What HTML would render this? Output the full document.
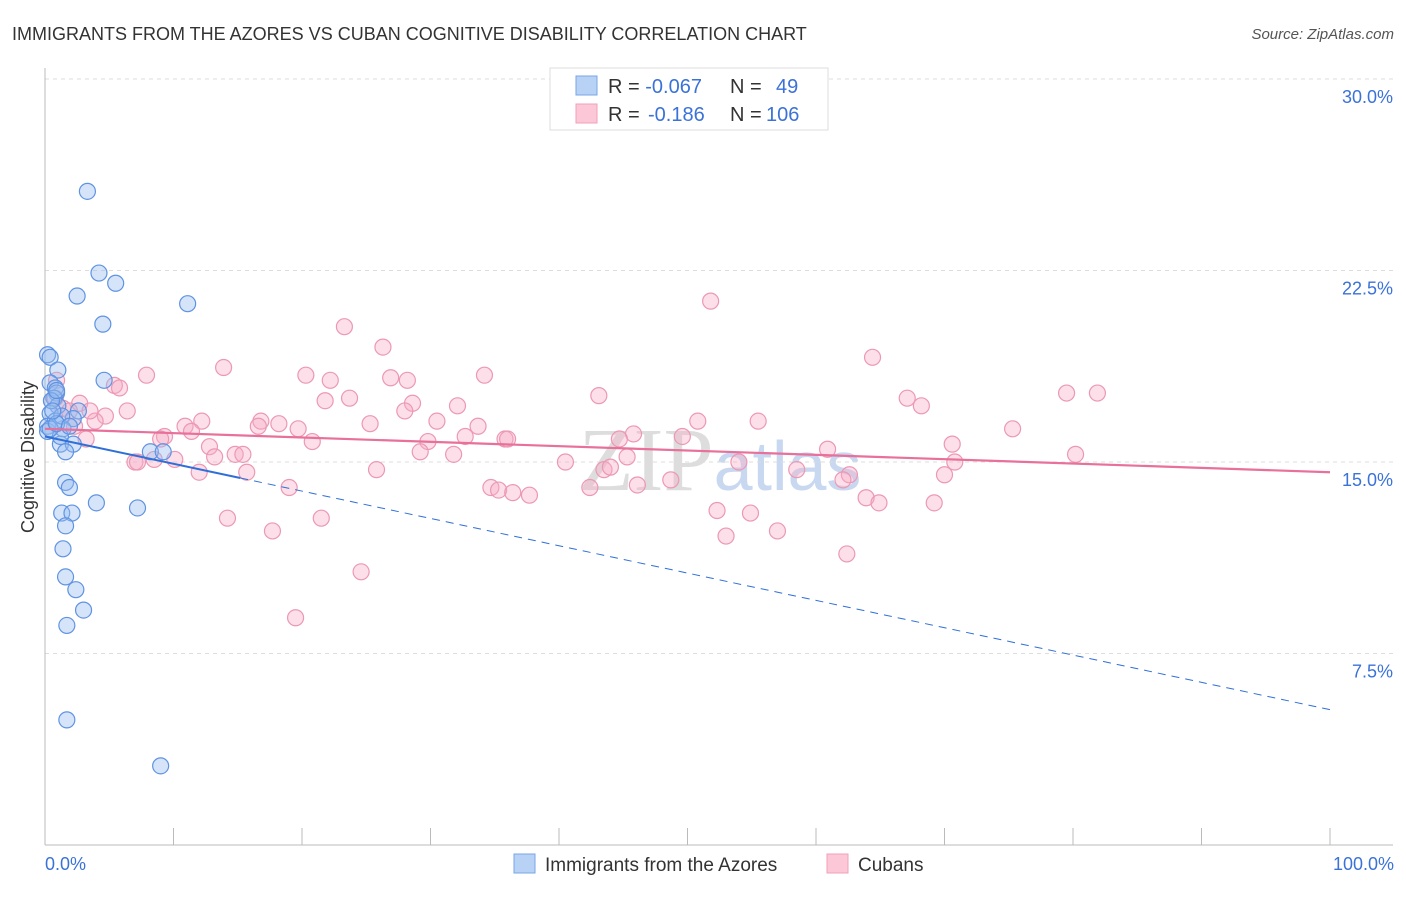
<!DOCTYPE html>
<html><head><meta charset="utf-8"><style>
body{margin:0;background:#fff;font-family:"Liberation Sans",sans-serif}
</style></head><body>
<svg id="chart" width="1406" height="892" xmlns="http://www.w3.org/2000/svg" font-family="Liberation Sans, sans-serif">
<text x="12" y="40" font-size="18" fill="#333">IMMIGRANTS FROM THE AZORES VS CUBAN COGNITIVE DISABILITY CORRELATION CHART</text>
<text x="1394" y="39" font-size="15" fill="#555" text-anchor="end" font-style="italic">Source: ZipAtlas.com</text>
<text x="720" y="490" font-size="90" text-anchor="middle" fill="#ddd" font-family="Liberation Serif, serif">ZIP<tspan fill="#c8d8f0" font-family="Liberation Sans, sans-serif" font-size="70">atlas</tspan></text>
<g id="grid"></g><g id="axes"></g><g id="pts"></g><g id="trends"></g>
<text transform="translate(34,457) rotate(-90)" font-size="18" fill="#333" text-anchor="middle">Cognitive Disability</text>
<text x="45" y="870" font-size="18" fill="#3b72d8">0.0%</text>
<text x="1394" y="870" font-size="18" fill="#3b72d8" text-anchor="end">100.0%</text>
<g>
<rect x="550" y="68" width="278" height="62" fill="#fff" stroke="#ddd"/>
<rect x="576" y="76" width="21" height="19" fill="#b8d2f6" stroke="#7aa5e6"/>
<rect x="576" y="104" width="21" height="19" fill="#fcc8d8" stroke="#f0a0ba"/>
<text x="608" y="93" font-size="20" fill="#333">R = <tspan fill="#3b72d8">-0.067</tspan><tspan x="730">N = </tspan><tspan fill="#3b72d8" x="776">49</tspan></text>
<text x="608" y="121" font-size="20" fill="#333">R = <tspan fill="#3b72d8" x="648">-0.186</tspan><tspan x="730">N = </tspan><tspan fill="#3b72d8" x="766">106</tspan></text>
</g>
<g>
<rect x="514" y="854" width="21" height="19" fill="#b8d2f6" stroke="#7aa5e6"/>
<text x="545" y="871" font-size="19" fill="#333">Immigrants from the Azores</text>
<rect x="827" y="854" width="21" height="19" fill="#fcc8d8" stroke="#f0a0ba"/>
<text x="858" y="871" font-size="19" fill="#333">Cubans</text>
</g>
</svg>
<script>
const yTicks=[7.5,15,22.5,30];
const yTickLabels=["7.5%","15.0%","22.5%","30.0%"];
const azoresX=[3.3,4.2,5.5,2.5,11.1,4.5,0.2,0.4,1.0,4.6,0.4,0.8,0.9,0.7,1.0,2.6,0.4,2.2,0.2,1.4,0.2,1.2,2.2,1.6,8.2,9.2,1.6,1.9,4.0,7.2,1.3,2.1,1.6,1.4,1.6,2.4,3.0,1.7,1.7,9.0,0.8,0.5,1.2,0.4,0.9,1.3,0.9,1.9,0.6];
const azoresY=[25.6,22.4,22.0,21.5,21.2,20.4,19.2,19.1,18.6,18.2,18.1,17.9,17.7,17.5,17.2,17.0,16.9,16.7,16.4,16.3,16.2,15.7,15.7,15.4,15.4,15.4,14.2,14.0,13.4,13.2,13.0,13.0,12.5,11.6,10.5,10.0,9.2,8.6,4.9,3.1,16.6,17.4,16.0,16.3,17.8,16.8,16.5,16.4,17.0];
const cubansX=[51.8,23.3,26.3,64.4,13.9,7.9,20.3,34.2,5.4,5.8,22.2,26.9,28.2,43.1,79.5,81.9,21.8,23.7,67.1,2.7,6.4,4.7,28.6,32.1,68.2,28.0,16.8,16.6,12.2,18.2,19.7,25.3,30.5,33.7,35.8,45.8,50.8,55.5,75.3,10.9,11.4,9.3,9.0,20.8,29.8,29.2,32.7,36.0,44.7,49.6,60.9,70.6,3.2,3.9,12.8,13.2,14.8,15.4,10.1,8.5,7.0,31.8,40.5,45.3,54.0,70.8,80.2,15.7,25.8,43.5,44.0,58.5,62.6,62.1,12.0,34.7,35.3,36.4,37.7,42.4,46.1,48.7,63.9,64.9,19.0,69.2,52.3,54.9,21.5,14.2,17.7,57.0,53.0,62.4,24.6,19.5,70.0,0.9,0.8,1.4,1.9,2.3,3.5,7.2];
const cubansY=[21.3,20.3,19.5,19.1,18.7,18.4,18.4,18.4,18.0,17.9,18.2,18.3,18.2,17.6,17.7,17.7,17.4,17.5,17.5,17.3,17.0,16.8,17.3,17.2,17.2,17.0,16.6,16.4,16.6,16.5,16.3,16.5,16.6,16.4,15.9,16.1,16.6,16.6,16.3,16.4,16.2,16.0,15.9,15.8,15.8,15.4,16.0,15.9,15.9,16.0,15.5,15.7,15.9,16.6,15.6,15.2,15.3,15.3,15.1,15.1,15.0,15.3,15.0,15.2,15.0,15.0,15.3,14.6,14.7,14.7,14.8,14.7,14.5,14.3,14.6,14.0,13.9,13.8,13.7,14.0,14.1,14.3,13.6,13.4,14.0,13.4,13.1,13.0,12.8,12.8,12.3,12.3,12.1,11.4,10.7,8.9,14.5,18.2,17.5,17.1,17.0,16.4,17.0,15.0];
const azoresTrend=[16.0,5.3];const azoresSolidEnd=15.2;
const cubansTrend=[16.3,14.6];
const NS="http://www.w3.org/2000/svg";
const X=v=>45+v*12.85, Y=v=>845-v*766/30;
function mk(p,t,a){const e=document.createElementNS(NS,t);for(const k in a)e.setAttribute(k,a[k]);p.appendChild(e);return e;}
const grid=document.getElementById('grid');
yTicks.forEach((t,i)=>{
 const l=mk(grid,'line',{x1:45,x2:1393,y1:Y(t),y2:Y(t),stroke:'#ddd','stroke-dasharray':'4,4'});
 
 
 const tx=mk(grid,'text',{x:1393,y:Y(t)+24,'font-size':18,fill:'#3b72d8','text-anchor':'end'});
 tx.textContent=yTickLabels[i];
 
 
});
const ax=document.getElementById('axes');
const ya=mk(ax,'line',{x1:45,x2:45,y1:68,y2:845,stroke:'#bbb'});


const xa=mk(ax,'line',{x1:45,x2:1393,y1:845,y2:845,stroke:'#bbb'});


for(let i=1;i<=10;i++){const t=mk(ax,'line',{x1:X(i*10),x2:X(i*10),y1:828,y2:845,stroke:'#bbb'});
 
 }
const pts=document.getElementById('pts');
cubansX.forEach((x,i)=>{const c=mk(pts,'circle',{cx:X(x),cy:Y(cubansY[i]),r:8,fill:'rgba(246,170,196,0.38)',stroke:'#ec98b4','stroke-width':1.2});
 
 });
azoresX.forEach((x,i)=>{const c=mk(pts,'circle',{cx:X(x),cy:Y(azoresY[i]),r:8,fill:'rgba(150,188,240,0.4)',stroke:'#5f93e2','stroke-width':1.2});
 
 });
const tr=document.getElementById('trends');
const ay=v=>azoresTrend[0]+(azoresTrend[1]-azoresTrend[0])*v/100;
let l1=mk(tr,'line',{x1:X(0),y1:Y(ay(0)),x2:X(azoresSolidEnd),y2:Y(ay(azoresSolidEnd)),stroke:'#2f6fd8','stroke-width':2});


let l2=mk(tr,'line',{x1:X(azoresSolidEnd),y1:Y(ay(azoresSolidEnd)),x2:X(100),y2:Y(ay(100)),stroke:'#2f6fd8','stroke-width':1,'stroke-dasharray':'8,6'});


let l3=mk(tr,'line',{x1:X(0),y1:Y(cubansTrend[0]),x2:X(100),y2:Y(cubansTrend[1]),stroke:'#e8709a','stroke-width':2.2});


</script>
</body></html>
